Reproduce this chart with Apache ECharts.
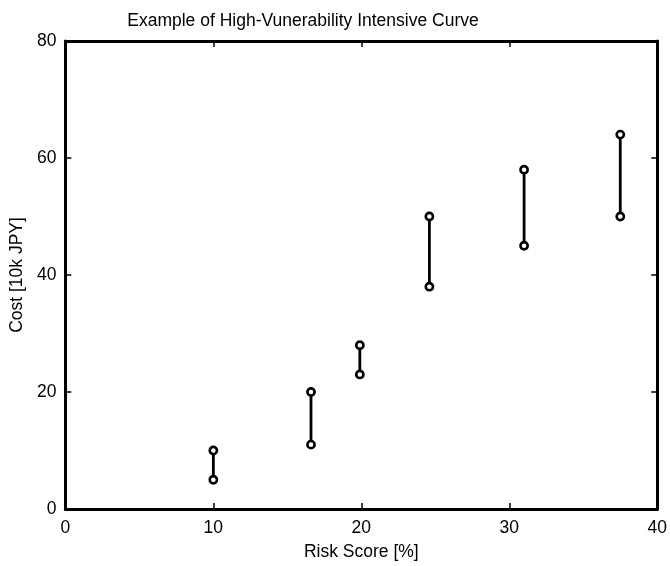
<!DOCTYPE html>
<html>
<head>
<meta charset="UTF-8">
<title></title>
<script src="https://cdn.jsdelivr.net/npm/echarts@6/dist/echarts.min.js"></script>
<style>
  html, body { margin: 0; padding: 0; background: #fff; }
  #main { width: 670px; height: 566px; }
</style>
</head>
<body>
<div id="main"></div>
<script>
// risk score of each case and the cost range (low / high)
var riskScore = [10, 16.6, 19.9, 24.6, 31.0, 37.5];
var costLow = [5, 11, 23, 38, 45, 50];
var costHigh = [10, 20, 28, 50, 58, 64];

var xTicks = [0, 10, 20, 30, 40];
var yTicks = [0, 20, 40, 60, 80];

var pairs = [];
for (var i = 0; i < riskScore.length; i++) {
    pairs.push([riskScore[i], costLow[i], costHigh[i]]);
}

var font = 'Liberation Sans, Arial, sans-serif';
var fs = 17.5;

var chart = echarts.init(document.getElementById('main'));

function boxAxis(show, margin) {
    return {
        axisLine: { show: true, onZero: false, lineStyle: { color: '#000', width: 3 } },
        axisTick: { show: true, inside: true, length: 6, lineStyle: { color: '#000', width: 1.5 } },
        splitLine: { show: false },
        axisLabel: { show: show, color: '#000', fontFamily: font, fontSize: fs, margin: margin }
    };
}

chart.setOption({
    animation: false,
    title: {
        text: 'Example of High-Vunerability Intensive Curve',
        left: 298, top: 7, textAlign: 'center',
        textStyle: { fontFamily: font, fontSize: fs, fontWeight: 'normal', color: '#000' }
    },
    grid: { left: 65, right: 9, top: 41, bottom: 56 },
    xAxis: [
        Object.assign(boxAxis(true, 10), {
            type: 'value', position: 'bottom', min: xTicks[0], max: xTicks[xTicks.length - 1], interval: 10,
            name: 'Risk Score [%]', nameLocation: 'middle', nameGap: 34,
            nameTextStyle: { fontFamily: font, fontSize: fs, color: '#000' }
        }),
        Object.assign(boxAxis(false, 8), {
            type: 'value', position: 'top', min: xTicks[0], max: xTicks[xTicks.length - 1], interval: 10
        })
    ],
    yAxis: [
        Object.assign(boxAxis(true, 9), {
            type: 'value', position: 'left', min: yTicks[0], max: yTicks[yTicks.length - 1], interval: 20,
            name: 'Cost [10k JPY]', nameLocation: 'middle', nameGap: 32,
            nameTextStyle: { fontFamily: font, fontSize: fs, color: '#000' }
        }),
        Object.assign(boxAxis(false, 8), {
            type: 'value', position: 'right', min: yTicks[0], max: yTicks[yTicks.length - 1], interval: 20
        })
    ],
    series: [{
        type: 'custom',
        xAxisIndex: 0,
        yAxisIndex: 0,
        data: pairs,
        encode: { x: 0, y: [1, 2] },
        renderItem: function (params, api) {
            var lo = api.coord([api.value(0), api.value(1)]);
            var hi = api.coord([api.value(0), api.value(2)]);
            var r = 3.6;
            return {
                type: 'group',
                children: [
                    { type: 'line', shape: { x1: lo[0], y1: lo[1] - r, x2: hi[0], y2: hi[1] + r },
                      style: { stroke: '#000', lineWidth: 2.8 } },
                    { type: 'circle', shape: { cx: lo[0], cy: lo[1], r: r },
                      style: { fill: 'none', stroke: '#000', lineWidth: 2.6 } },
                    { type: 'circle', shape: { cx: hi[0], cy: hi[1], r: r },
                      style: { fill: 'none', stroke: '#000', lineWidth: 2.6 } }
                ]
            };
        }
    }]
});
</script>
</body>
</html>
